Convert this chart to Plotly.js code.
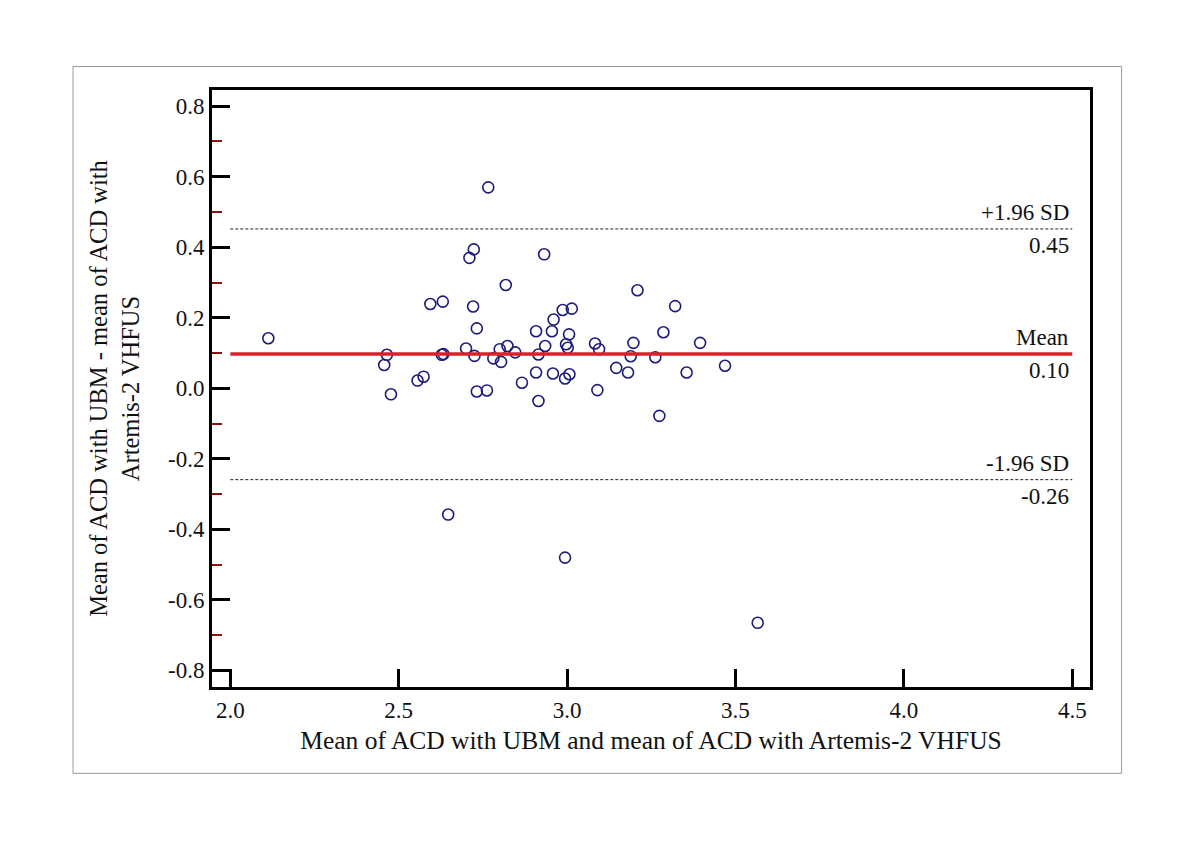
<!DOCTYPE html>
<html>
<head>
<meta charset="utf-8">
<script src="https://cdn.plot.ly/plotly-3.0.1.min.js"></script>
<style>html,body{margin:0;padding:0;background:#fff;}#chart{width:1200px;height:848px;}</style>
</head>
<body>
<div id="chart"></div>
<script>
// Mean of the two methods (x) and difference (y)
const meanACD = [2.113, 2.457, 2.465, 2.477, 2.556, 2.574, 2.594, 2.631, 2.628, 2.633,
  2.647, 2.700, 2.710, 2.723, 2.721, 2.732, 2.725, 2.732, 2.762, 2.766,
  2.781, 2.800, 2.804, 2.818, 2.823, 2.846, 2.866, 2.908, 2.908, 2.915,
  2.915, 2.932, 2.935, 2.955, 2.960, 2.958, 2.987, 2.994, 2.994, 2.997,
  3.002, 3.006, 3.007, 3.014, 3.083, 3.090, 3.095, 3.146, 3.181, 3.189,
  3.197, 3.209, 3.262, 3.274, 3.286, 3.321, 3.355, 3.395, 3.469, 3.566];
const diffACD = [0.142, 0.066, 0.095, -0.017, 0.022, 0.033, 0.239, 0.246, 0.095, 0.097,
  -0.358, 0.113, 0.370, 0.394, 0.232, 0.170, 0.092, -0.009, -0.006, 0.570,
  0.085, 0.111, 0.075, 0.293, 0.120, 0.102, 0.016, 0.162, 0.045, 0.096,
  -0.036, 0.380, 0.120, 0.162, 0.195, 0.042, 0.222, 0.028, -0.480, 0.125,
  0.115, 0.153, 0.040, 0.226, 0.127, -0.005, 0.111, 0.058, 0.045, 0.091,
  0.129, 0.278, 0.088, -0.078, 0.159, 0.233, 0.045, 0.129, 0.064, -0.665];

// Reference lines: +1.96 SD, mean, -1.96 SD
const refNames  = ['+1.96 SD', 'Mean', '-1.96 SD'];
const refValues = [0.452, 0.097, -0.259];
const refLabels = ['0.45', '0.10', '-0.26'];
const lineXRange = [2.0, 4.5];

const xTickVals = [2.0, 2.5, 3.0, 3.5, 4.0, 4.5];
const xTickText = ['2.0', '2.5', '3.0', '3.5', '4.0', '4.5'];
const yTickVals = [-0.8, -0.6, -0.4, -0.2, 0.0, 0.2, 0.4, 0.6, 0.8];
const yTickText = ['-0.8', '-0.6', '-0.4', '-0.2', '0.0', '0.2', '0.4', '0.6', '0.8'];
const yMinorTicks = [-0.7, -0.5, -0.3, -0.1, 0.1, 0.3, 0.5, 0.7];

const FONT = '"Liberation Serif", "Times New Roman", serif';

const trace = {
  x: meanACD, y: diffACD, type: 'scatter', mode: 'markers',
  marker: {symbol: 'circle-open', size: 11, color: '#1c1c7a', line: {width: 1.6, color: '#1c1c7a'}},
  showlegend: false, hoverinfo: 'x+y'
};

const shapes = [];
const annotations = [];
refValues.forEach((v, i) => {
  const isMean = refNames[i] === 'Mean';
  shapes.push({
    type: 'line', xref: 'x', yref: 'y', x0: lineXRange[0], x1: lineXRange[1], y0: v, y1: v,
    line: isMean ? {color: '#d8222a', width: 3.5} : {color: '#222', width: 1, dash: '3px,2px'}
  });
  annotations.push({xref: 'x', yref: 'y', x: 4.495, y: v, text: refNames[i], showarrow: false,
    xanchor: 'right', yanchor: 'bottom', yshift: 2, font: {family: FONT, size: 23, color: '#111'}});
  annotations.push({xref: 'x', yref: 'y', x: 4.495, y: v, text: refLabels[i], showarrow: false,
    xanchor: 'right', yanchor: 'top', yshift: -2, font: {family: FONT, size: 23, color: '#111'}});
});
// outer grey frame
shapes.push({type: 'rect', xref: 'paper', yref: 'paper', x0: -0.1583, x1: 1.036, y0: -0.1446, y1: 1.0394,
  line: {color: '#9a9a9a', width: 1}, layer: 'below'});

const layout = {
  width: 1200, height: 848,
  margin: {l: 212, r: 110, t: 90, b: 161, autoexpand: false},
  paper_bgcolor: '#ffffff', plot_bgcolor: '#ffffff',
  font: {family: FONT, size: 23, color: '#111'},
  xaxis: {
    range: [1.9457, 4.5527], tickvals: xTickVals, ticktext: xTickText,
    ticks: 'inside', ticklen: 18, tickwidth: 3, tickcolor: '#000',
    showline: true, linewidth: 3, linecolor: '#000', mirror: true,
    showgrid: false, zeroline: false, automargin: false,
    tickfont: {family: FONT, size: 23, color: '#111'},
    title: {text: 'Mean of ACD with UBM and mean of ACD with Artemis-2 VHFUS',
      font: {family: FONT, size: 25.5, color: '#111'}, standoff: 10}
  },
  yaxis: {
    range: [-0.847, 0.846], tickvals: yTickVals, ticktext: yTickText,
    ticks: 'inside', ticklen: 18, tickwidth: 3, tickcolor: '#000',
    minor: {tickvals: yMinorTicks, ticks: 'inside', ticklen: 10, tickwidth: 2, tickcolor: '#8b1010', showgrid: false},
    showline: true, linewidth: 3, linecolor: '#000', mirror: true,
    showgrid: false, zeroline: false, automargin: false,
    tickfont: {family: FONT, size: 23, color: '#111'},
    title: {text: 'Mean of ACD with UBM - mean of ACD with<br>Artemis-2 VHFUS',
      font: {family: FONT, size: 24.5, color: '#111'}, standoff: 22}
  },
  shapes: shapes,
  annotations: annotations
};

Plotly.newPlot('chart', [trace], layout, {displayModeBar: false});
</script>
</body>
</html>
